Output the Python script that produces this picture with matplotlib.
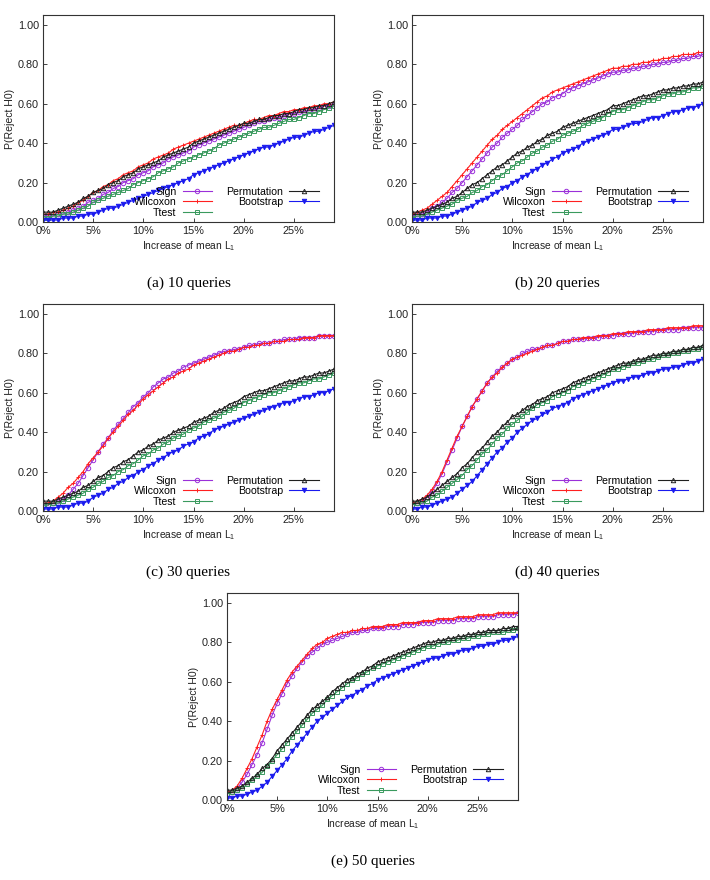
import numpy as np
import matplotlib.pyplot as plt

plt.rcParams['font.family'] = ['Liberation Sans', 'DejaVu Sans']

# increase of mean L1 in percent, step 0.5
x = np.arange(0, 29.01, 0.5)

# (a) 10 queries
sign_a = [0.03, 0.03, 0.03, 0.04, 0.04, 0.05, 0.06, 0.07, 0.08, 0.10,
          0.11, 0.12, 0.14, 0.15, 0.17, 0.18, 0.20, 0.21, 0.22, 0.24,
          0.25, 0.26, 0.28, 0.29, 0.30, 0.32, 0.33, 0.34, 0.35, 0.36,
          0.38, 0.39, 0.40, 0.41, 0.42, 0.43, 0.44, 0.45, 0.46, 0.47,
          0.48, 0.49, 0.50, 0.51, 0.51, 0.52, 0.53, 0.53, 0.54, 0.55,
          0.55, 0.56, 0.56, 0.57, 0.57, 0.58, 0.59, 0.59, 0.60]
wilc_a = [0.04, 0.04, 0.05, 0.05, 0.06, 0.07, 0.08, 0.10, 0.11, 0.13,
          0.15, 0.16, 0.18, 0.19, 0.21, 0.22, 0.24, 0.25, 0.26, 0.28,
          0.29, 0.30, 0.32, 0.33, 0.34, 0.35, 0.37, 0.38, 0.39, 0.40,
          0.41, 0.42, 0.43, 0.44, 0.45, 0.46, 0.47, 0.48, 0.49, 0.49,
          0.50, 0.51, 0.52, 0.52, 0.53, 0.54, 0.54, 0.55, 0.56, 0.56,
          0.57, 0.57, 0.58, 0.58, 0.59, 0.59, 0.60, 0.60, 0.61]
ttest_a = [0.02, 0.02, 0.03, 0.03, 0.04, 0.04, 0.05, 0.06, 0.07, 0.08,
           0.10, 0.11, 0.12, 0.13, 0.14, 0.15, 0.16, 0.17, 0.19, 0.20,
           0.21, 0.22, 0.23, 0.25, 0.26, 0.27, 0.28, 0.30, 0.31, 0.32,
           0.33, 0.34, 0.35, 0.36, 0.37, 0.39, 0.40, 0.41, 0.42, 0.43,
           0.44, 0.45, 0.46, 0.47, 0.48, 0.48, 0.49, 0.50, 0.51, 0.52,
           0.52, 0.53, 0.54, 0.55, 0.55, 0.56, 0.57, 0.58, 0.59]
perm_a = [0.05, 0.05, 0.05, 0.06, 0.07, 0.08, 0.09, 0.10, 0.12, 0.13,
          0.15, 0.16, 0.17, 0.19, 0.20, 0.21, 0.23, 0.24, 0.25, 0.27,
          0.28, 0.29, 0.30, 0.31, 0.33, 0.34, 0.35, 0.36, 0.37, 0.38,
          0.40, 0.41, 0.42, 0.43, 0.44, 0.45, 0.46, 0.47, 0.48, 0.49,
          0.50, 0.50, 0.51, 0.52, 0.52, 0.53, 0.54, 0.54, 0.55, 0.55,
          0.56, 0.57, 0.57, 0.58, 0.58, 0.59, 0.59, 0.60, 0.61]
boot_a = [0.01, 0.01, 0.01, 0.01, 0.02, 0.02, 0.02, 0.03, 0.03, 0.04,
          0.04, 0.05, 0.06, 0.07, 0.07, 0.08, 0.09, 0.10, 0.11, 0.12,
          0.13, 0.14, 0.15, 0.16, 0.17, 0.18, 0.19, 0.20, 0.21, 0.22,
          0.24, 0.25, 0.26, 0.27, 0.28, 0.29, 0.30, 0.31, 0.32, 0.33,
          0.34, 0.35, 0.36, 0.37, 0.38, 0.38, 0.39, 0.40, 0.41, 0.42,
          0.43, 0.43, 0.44, 0.45, 0.46, 0.46, 0.47, 0.48, 0.49]

# (b) 20 queries
sign_b = [0.03, 0.04, 0.04, 0.05, 0.07, 0.08, 0.10, 0.12, 0.15, 0.17,
          0.20, 0.23, 0.26, 0.29, 0.32, 0.35, 0.38, 0.40, 0.43, 0.45,
          0.47, 0.49, 0.52, 0.54, 0.56, 0.58, 0.60, 0.61, 0.63, 0.64,
          0.65, 0.67, 0.68, 0.69, 0.70, 0.71, 0.72, 0.73, 0.74, 0.75,
          0.76, 0.76, 0.77, 0.77, 0.78, 0.78, 0.79, 0.79, 0.80, 0.80,
          0.81, 0.81, 0.82, 0.82, 0.83, 0.83, 0.84, 0.84, 0.85]
wilc_b = [0.04, 0.05, 0.06, 0.07, 0.09, 0.11, 0.13, 0.15, 0.18, 0.21,
          0.24, 0.27, 0.30, 0.33, 0.36, 0.39, 0.42, 0.44, 0.47, 0.49,
          0.51, 0.53, 0.55, 0.57, 0.59, 0.61, 0.63, 0.64, 0.66, 0.67,
          0.68, 0.69, 0.70, 0.71, 0.72, 0.73, 0.74, 0.75, 0.76, 0.77,
          0.78, 0.78, 0.79, 0.79, 0.80, 0.80, 0.81, 0.81, 0.82, 0.82,
          0.83, 0.83, 0.84, 0.84, 0.85, 0.85, 0.85, 0.86, 0.86]
ttest_b = [0.02, 0.03, 0.03, 0.04, 0.05, 0.06, 0.07, 0.08, 0.09, 0.11,
           0.12, 0.13, 0.15, 0.16, 0.18, 0.19, 0.21, 0.23, 0.24, 0.26,
           0.28, 0.30, 0.31, 0.33, 0.35, 0.36, 0.38, 0.39, 0.41, 0.42,
           0.44, 0.45, 0.46, 0.47, 0.49, 0.50, 0.51, 0.52, 0.53, 0.55,
           0.56, 0.57, 0.57, 0.58, 0.59, 0.60, 0.61, 0.62, 0.62, 0.63,
           0.64, 0.65, 0.65, 0.66, 0.66, 0.67, 0.68, 0.68, 0.69]
perm_b = [0.05, 0.05, 0.05, 0.06, 0.07, 0.08, 0.09, 0.10, 0.12, 0.13,
          0.15, 0.17, 0.19, 0.20, 0.22, 0.24, 0.26, 0.28, 0.29, 0.31,
          0.33, 0.35, 0.36, 0.38, 0.39, 0.41, 0.42, 0.44, 0.45, 0.46,
          0.48, 0.49, 0.50, 0.51, 0.52, 0.53, 0.54, 0.55, 0.56, 0.57,
          0.59, 0.59, 0.60, 0.61, 0.62, 0.63, 0.64, 0.64, 0.65, 0.66,
          0.67, 0.67, 0.68, 0.68, 0.69, 0.69, 0.70, 0.70, 0.71]
boot_b = [0.01, 0.01, 0.01, 0.02, 0.02, 0.02, 0.03, 0.03, 0.04, 0.05,
          0.06, 0.07, 0.08, 0.10, 0.11, 0.12, 0.14, 0.15, 0.17, 0.18,
          0.20, 0.21, 0.23, 0.24, 0.26, 0.27, 0.29, 0.30, 0.32, 0.33,
          0.35, 0.36, 0.37, 0.38, 0.40, 0.41, 0.42, 0.43, 0.44, 0.45,
          0.47, 0.47, 0.48, 0.49, 0.50, 0.50, 0.51, 0.52, 0.53, 0.53,
          0.54, 0.55, 0.56, 0.56, 0.57, 0.58, 0.58, 0.59, 0.60]

# (c) 30 queries
sign_c = [0.03, 0.03, 0.04, 0.05, 0.06, 0.08, 0.11, 0.14, 0.18, 0.22,
          0.26, 0.30, 0.34, 0.37, 0.41, 0.44, 0.47, 0.50, 0.53, 0.55,
          0.58, 0.60, 0.63, 0.65, 0.67, 0.68, 0.70, 0.71, 0.73, 0.74,
          0.75, 0.76, 0.77, 0.78, 0.79, 0.80, 0.81, 0.81, 0.82, 0.82,
          0.83, 0.84, 0.84, 0.85, 0.85, 0.85, 0.86, 0.86, 0.87, 0.87,
          0.87, 0.88, 0.88, 0.88, 0.88, 0.89, 0.89, 0.89, 0.89]
wilc_c = [0.04, 0.04, 0.05, 0.07, 0.09, 0.12, 0.14, 0.17, 0.20, 0.24,
          0.27, 0.30, 0.33, 0.37, 0.40, 0.43, 0.46, 0.49, 0.51, 0.54,
          0.57, 0.59, 0.61, 0.63, 0.65, 0.67, 0.68, 0.70, 0.71, 0.72,
          0.74, 0.75, 0.76, 0.77, 0.78, 0.79, 0.80, 0.81, 0.81, 0.82,
          0.83, 0.83, 0.84, 0.84, 0.85, 0.85, 0.86, 0.86, 0.86, 0.87,
          0.87, 0.87, 0.88, 0.88, 0.88, 0.89, 0.89, 0.89, 0.89]
ttest_c = [0.03, 0.03, 0.04, 0.04, 0.05, 0.06, 0.07, 0.08, 0.09, 0.11,
           0.12, 0.14, 0.15, 0.17, 0.18, 0.20, 0.21, 0.23, 0.24, 0.26,
           0.28, 0.29, 0.31, 0.32, 0.34, 0.35, 0.37, 0.38, 0.39, 0.41,
           0.42, 0.43, 0.45, 0.46, 0.47, 0.48, 0.50, 0.51, 0.52, 0.54,
           0.55, 0.56, 0.57, 0.58, 0.59, 0.60, 0.60, 0.61, 0.62, 0.63,
           0.64, 0.65, 0.65, 0.66, 0.67, 0.67, 0.68, 0.69, 0.70]
perm_c = [0.05, 0.05, 0.05, 0.06, 0.07, 0.08, 0.09, 0.10, 0.12, 0.13,
          0.15, 0.17, 0.18, 0.20, 0.22, 0.23, 0.25, 0.26, 0.28, 0.30,
          0.31, 0.33, 0.34, 0.36, 0.37, 0.38, 0.40, 0.41, 0.42, 0.43,
          0.45, 0.46, 0.47, 0.48, 0.50, 0.51, 0.52, 0.54, 0.55, 0.56,
          0.58, 0.59, 0.60, 0.61, 0.61, 0.62, 0.63, 0.64, 0.65, 0.66,
          0.66, 0.67, 0.68, 0.68, 0.69, 0.70, 0.70, 0.71, 0.72]
boot_c = [0.01, 0.01, 0.01, 0.02, 0.02, 0.02, 0.03, 0.04, 0.04, 0.05,
          0.07, 0.08, 0.09, 0.11, 0.12, 0.14, 0.15, 0.17, 0.18, 0.20,
          0.21, 0.23, 0.24, 0.26, 0.27, 0.29, 0.30, 0.31, 0.33, 0.34,
          0.35, 0.37, 0.38, 0.39, 0.41, 0.42, 0.43, 0.44, 0.45, 0.46,
          0.47, 0.48, 0.49, 0.50, 0.51, 0.52, 0.53, 0.54, 0.55, 0.55,
          0.56, 0.57, 0.58, 0.58, 0.59, 0.60, 0.60, 0.61, 0.62]

# (d) 40 queries
sign_d = [0.03, 0.04, 0.05, 0.07, 0.10, 0.14, 0.19, 0.25, 0.31, 0.37,
          0.43, 0.48, 0.53, 0.57, 0.61, 0.65, 0.68, 0.71, 0.73, 0.75,
          0.77, 0.78, 0.80, 0.81, 0.82, 0.82, 0.83, 0.84, 0.84, 0.85,
          0.86, 0.86, 0.87, 0.87, 0.87, 0.88, 0.88, 0.88, 0.89, 0.89,
          0.89, 0.90, 0.90, 0.90, 0.90, 0.91, 0.91, 0.91, 0.91, 0.92,
          0.92, 0.92, 0.92, 0.92, 0.93, 0.93, 0.93, 0.93, 0.93]
wilc_d = [0.04, 0.05, 0.06, 0.08, 0.11, 0.15, 0.20, 0.26, 0.32, 0.38,
          0.43, 0.48, 0.53, 0.57, 0.61, 0.65, 0.68, 0.70, 0.73, 0.75,
          0.77, 0.78, 0.79, 0.80, 0.81, 0.82, 0.83, 0.84, 0.84, 0.85,
          0.86, 0.86, 0.87, 0.87, 0.88, 0.88, 0.88, 0.89, 0.89, 0.89,
          0.90, 0.90, 0.90, 0.91, 0.91, 0.91, 0.91, 0.92, 0.92, 0.92,
          0.92, 0.93, 0.93, 0.93, 0.93, 0.93, 0.94, 0.94, 0.94]
ttest_d = [0.03, 0.04, 0.04, 0.05, 0.07, 0.08, 0.10, 0.12, 0.14, 0.16,
           0.18, 0.21, 0.23, 0.26, 0.29, 0.31, 0.34, 0.37, 0.39, 0.42,
           0.44, 0.46, 0.48, 0.50, 0.52, 0.54, 0.55, 0.56, 0.58, 0.59,
           0.60, 0.61, 0.63, 0.64, 0.65, 0.66, 0.67, 0.68, 0.69, 0.70,
           0.72, 0.72, 0.73, 0.74, 0.75, 0.75, 0.76, 0.77, 0.77, 0.78,
           0.79, 0.79, 0.80, 0.80, 0.81, 0.81, 0.82, 0.82, 0.83]
perm_d = [0.05, 0.05, 0.06, 0.07, 0.09, 0.11, 0.13, 0.15, 0.17, 0.19,
          0.22, 0.24, 0.27, 0.30, 0.32, 0.35, 0.38, 0.40, 0.43, 0.45,
          0.48, 0.49, 0.51, 0.53, 0.54, 0.56, 0.57, 0.58, 0.60, 0.61,
          0.62, 0.63, 0.65, 0.66, 0.67, 0.68, 0.69, 0.70, 0.71, 0.72,
          0.73, 0.74, 0.75, 0.75, 0.76, 0.77, 0.77, 0.78, 0.79, 0.79,
          0.80, 0.80, 0.81, 0.81, 0.82, 0.82, 0.83, 0.83, 0.84]
boot_d = [0.01, 0.01, 0.02, 0.02, 0.03, 0.04, 0.05, 0.06, 0.07, 0.09,
          0.11, 0.13, 0.15, 0.18, 0.21, 0.24, 0.27, 0.30, 0.32, 0.35,
          0.37, 0.40, 0.42, 0.44, 0.46, 0.47, 0.49, 0.50, 0.52, 0.53,
          0.54, 0.55, 0.57, 0.58, 0.59, 0.60, 0.61, 0.62, 0.63, 0.64,
          0.65, 0.66, 0.66, 0.67, 0.68, 0.68, 0.69, 0.70, 0.70, 0.71,
          0.72, 0.72, 0.73, 0.73, 0.74, 0.75, 0.75, 0.76, 0.77]

# (e) 50 queries
sign_e = [0.03, 0.04, 0.06, 0.09, 0.13, 0.18, 0.23, 0.29, 0.36, 0.43,
          0.49, 0.54, 0.59, 0.63, 0.67, 0.70, 0.73, 0.75, 0.77, 0.79,
          0.80, 0.81, 0.82, 0.83, 0.84, 0.85, 0.85, 0.86, 0.86, 0.87,
          0.87, 0.87, 0.88, 0.88, 0.88, 0.89, 0.89, 0.89, 0.90, 0.90,
          0.90, 0.90, 0.91, 0.91, 0.91, 0.91, 0.92, 0.92, 0.92, 0.92,
          0.93, 0.93, 0.93, 0.93, 0.94, 0.94, 0.94, 0.94, 0.95]
wilc_e = [0.04, 0.05, 0.07, 0.11, 0.16, 0.21, 0.27, 0.33, 0.40, 0.46,
          0.51, 0.56, 0.61, 0.65, 0.68, 0.71, 0.74, 0.77, 0.79, 0.80,
          0.82, 0.83, 0.84, 0.85, 0.85, 0.86, 0.86, 0.87, 0.87, 0.88,
          0.88, 0.88, 0.89, 0.89, 0.89, 0.90, 0.90, 0.90, 0.90, 0.91,
          0.91, 0.91, 0.92, 0.92, 0.92, 0.92, 0.93, 0.93, 0.93, 0.93,
          0.94, 0.94, 0.94, 0.94, 0.95, 0.95, 0.95, 0.95, 0.95]
ttest_e = [0.03, 0.04, 0.05, 0.06, 0.08, 0.10, 0.12, 0.14, 0.17, 0.20,
           0.23, 0.26, 0.29, 0.32, 0.35, 0.38, 0.41, 0.44, 0.46, 0.48,
           0.51, 0.53, 0.55, 0.57, 0.59, 0.61, 0.62, 0.64, 0.65, 0.67,
           0.68, 0.69, 0.70, 0.71, 0.72, 0.73, 0.74, 0.75, 0.76, 0.77,
           0.78, 0.78, 0.79, 0.80, 0.80, 0.81, 0.81, 0.82, 0.82, 0.83,
           0.83, 0.84, 0.84, 0.85, 0.85, 0.85, 0.86, 0.86, 0.87]
perm_e = [0.05, 0.05, 0.06, 0.07, 0.09, 0.11, 0.13, 0.16, 0.18, 0.21,
          0.25, 0.28, 0.31, 0.34, 0.37, 0.40, 0.43, 0.46, 0.48, 0.50,
          0.52, 0.55, 0.57, 0.59, 0.61, 0.62, 0.64, 0.65, 0.67, 0.68,
          0.70, 0.71, 0.72, 0.73, 0.74, 0.75, 0.76, 0.77, 0.78, 0.79,
          0.80, 0.80, 0.81, 0.81, 0.82, 0.82, 0.83, 0.83, 0.84, 0.84,
          0.85, 0.85, 0.86, 0.86, 0.86, 0.87, 0.87, 0.88, 0.88]
boot_e = [0.01, 0.01, 0.02, 0.02, 0.03, 0.04, 0.05, 0.07, 0.09, 0.12,
          0.15, 0.18, 0.21, 0.25, 0.28, 0.31, 0.34, 0.37, 0.40, 0.42,
          0.44, 0.46, 0.48, 0.50, 0.52, 0.53, 0.55, 0.56, 0.58, 0.59,
          0.61, 0.62, 0.63, 0.64, 0.65, 0.66, 0.67, 0.68, 0.69, 0.70,
          0.71, 0.72, 0.72, 0.73, 0.74, 0.74, 0.75, 0.76, 0.76, 0.77,
          0.78, 0.78, 0.79, 0.79, 0.80, 0.81, 0.81, 0.82, 0.83]

captions = ['(a) 10 queries', '(b) 20 queries', '(c) 30 queries',
            '(d) 40 queries', '(e) 50 queries']
method_names = ['Sign', 'Wilcoxon', 'Ttest', 'Permutation', 'Bootstrap']
panels = [
    [sign_a, wilc_a, ttest_a, perm_a, boot_a],
    [sign_b, wilc_b, ttest_b, perm_b, boot_b],
    [sign_c, wilc_c, ttest_c, perm_c, boot_c],
    [sign_d, wilc_d, ttest_d, perm_d, boot_d],
    [sign_e, wilc_e, ttest_e, perm_e, boot_e],
]

# gnuplot-like styles: colour, marker, filled?
styles = [
    ('#9b30d9', 'o', False),
    ('#ff2020', '+', True),
    ('#3a9a5e', 's', False),
    ('#202020', '^', False),
    ('#1a1aee', 'v', True),
]

# axes rectangles in pixels (left, top); every box is 291 x 207 px
W, H = 710, 880
boxes_px = [(43, 15), (412, 15), (43, 304), (412, 304), (227, 593)]

fig = plt.figure(figsize=(7.1, 8.8), dpi=100)

for (px, py), series, cap in zip(boxes_px, panels, captions):
    ax = fig.add_axes([px / W, 1 - (py + 207) / H, 291 / W, 207 / H])
    for vals, name, (col, mk, filled) in zip(series, method_names, styles):
        ax.plot(x, vals, color=col, lw=0.8, marker=mk, ms=3.2,
                mew=0.7, mfc=col if filled else 'none', mec=col, label=name)
    ax.set_xlim(0, 29)
    ax.set_ylim(0, 1.05)
    ax.set_xticks([0, 5, 10, 15, 20, 25])
    ax.set_xticklabels(['0%', '5%', '10%', '15%', '20%', '25%'])
    ax.set_yticks([0, 0.2, 0.4, 0.6, 0.8, 1.0])
    ax.set_yticklabels(['0.00', '0.20', '0.40', '0.60', '0.80', '1.00'])
    ax.tick_params(direction='in', length=3, width=0.6, labelsize=7.8, pad=3,
                   colors='#222222')
    for sp in ax.spines.values():
        sp.set_linewidth(0.8)
        sp.set_color('#333333')
    ax.set_xlabel('Increase of mean L$_{\\mathregular{1}}$', fontsize=7.4,
                  labelpad=2, color='#222222')
    ax.set_ylabel('P(Reject H0)', fontsize=7.6, labelpad=2, color='#222222')
    ax.legend(loc='lower right', ncol=2, frameon=False, markerfirst=False,
              fontsize=7.6, handlelength=2.8, handletextpad=0.6,
              columnspacing=1.3, labelspacing=0.05,
              bbox_to_anchor=(0.98, -0.025))
    ax.text(0.5, -0.295, cap, transform=ax.transAxes, ha='center', va='center',
            fontsize=11, family=['Liberation Serif', 'DejaVu Serif'])

fig.savefig('out.png', dpi=100)
